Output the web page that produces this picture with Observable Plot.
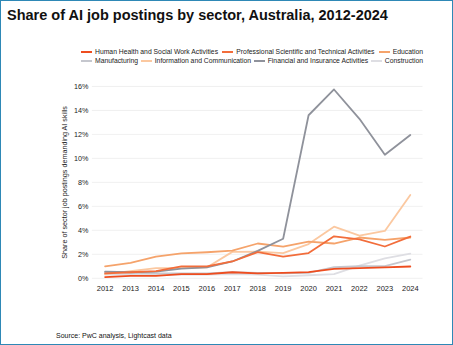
<!DOCTYPE html>
<html>
<head>
<meta charset="utf-8">
<script src="https://cdn.jsdelivr.net/npm/d3@7"></script>
<script src="https://cdn.jsdelivr.net/npm/@observablehq/plot@0.6"></script>
<style>
  html, body { margin: 0; padding: 0; background: #fff; }
  #frame {
    position: relative; width: 453px; height: 345px; box-sizing: border-box;
    border: 1.5px solid #2e88b6; overflow: hidden;
    font-family: "Liberation Sans", Arial, Helvetica, sans-serif; color: #111;
  }
  #title { position: absolute; left: 6px; top: 6px; font-size: 14.5px; font-weight: bold; white-space: nowrap; }
  #legend { position: absolute; left: 80px; top: 46px; width: 342px; font-size: 6.8px; color: #222; }
  .row { display: flex; justify-content: space-between; height: 9px; align-items: center; }
  .item { display: flex; align-items: center; white-space: nowrap; }
  .sw { display: inline-block; width: 11px; height: 2px; margin-right: 3px; }
  #chart { position: absolute; left: -1.5px; top: 68.5px; }
  #source { position: absolute; left: 55px; top: 331px; font-size: 7px; color: #111; white-space: nowrap; }
</style>
</head>
<body>
<div id="frame">
  <div id="title">Share of AI job postings by sector, Australia, 2012-2024</div>
  <div id="legend"></div>
  <div id="chart"></div>
  <div id="source">Source: PwC analysis, Lightcast data</div>
</div>
<script>
const years = [2012, 2013, 2014, 2015, 2016, 2017, 2018, 2019, 2020, 2021, 2022, 2023, 2024];
const sectors = [
  "Human Health and Social Work Activities",
  "Professional Scientific and Technical Activities",
  "Education",
  "Manufacturing",
  "Information and Communication",
  "Financial and Insurance Activities",
  "Construction"
];
const colors = ["#ee4d1f", "#f26d3b", "#f5a36b", "#c5c7ce", "#fbc8a0", "#8f929b", "#dedee3"];
const humanHealth   = [0.10, 0.20, 0.20, 0.35, 0.35, 0.50, 0.40, 0.45, 0.52, 0.78, 0.85, 0.90, 0.98];
const professional  = [0.40, 0.50, 0.60, 1.00, 1.00, 1.40, 2.18, 1.80, 2.10, 3.50, 3.25, 2.65, 3.48];
const education     = [1.00, 1.28, 1.80, 2.08, 2.17, 2.30, 2.90, 2.64, 3.05, 2.90, 3.40, 3.20, 3.40];
const manufacturing = [0.50, 0.45, 0.40, 0.40, 0.40, 0.50, 0.45, 0.40, 0.45, 0.92, 1.02, 1.02, 1.56];
const infoComm      = [0.35, 0.60, 0.85, 0.85, 0.90, 2.20, 2.22, 2.10, 2.85, 4.30, 3.55, 3.95, 6.95];
const financial     = [0.55, 0.50, 0.55, 0.80, 0.90, 1.40, 2.28, 3.30, 13.60, 15.75, 13.30, 10.30, 11.95];
const construction  = [0.30, 0.30, 0.30, 0.30, 0.30, 0.35, 0.30, 0.15, 0.25, 0.35, 1.05, 1.65, 2.05];
const yTicks = [0, 2, 4, 6, 8, 10, 12, 14, 16];

const seriesValues = [humanHealth, professional, education, manufacturing, infoComm, financial, construction];
const data = [];
sectors.forEach((s, i) => years.forEach((y, j) => data.push({sector: s, year: y, value: seriesValues[i][j]})));

// draw order (back to front)
const drawOrder = [6, 3, 4, 2, 5, 1, 0];

// legend
const legend = document.getElementById("legend");
[[0, 1, 2], [3, 4, 5, 6]].forEach(row => {
  const r = document.createElement("div");
  r.className = "row";
  row.forEach(i => {
    const it = document.createElement("div");
    it.className = "item";
    it.innerHTML = `<span class="sw" style="background:${colors[i]}"></span><span>${sectors[i]}</span>`;
    r.appendChild(it);
  });
  legend.appendChild(r);
});

const chart = Plot.plot({
  width: 453,
  height: 232,
  marginLeft: 92,
  marginRight: 30,
  marginTop: 16,
  marginBottom: 24,
  style: {fontFamily: "'Liberation Sans', Arial, sans-serif", fontSize: "7.5px", color: "#222", background: "transparent"},
  x: {domain: [2011.5, 2024.5]},
  y: {domain: [0, 16]},
  color: {domain: sectors, range: colors},
  marks: [
    Plot.gridY(yTicks, {stroke: "#ececec", strokeOpacity: 1, strokeWidth: 0.8}),
    Plot.axisY({ticks: yTicks, tickSize: 0, tickPadding: 4, tickFormat: d => d + "%",
      label: "Share of sector job postings demanding AI skills", labelAnchor: "center", labelOffset: 31, labelArrow: "none", fontSize: 7.2}),
    Plot.axisX({ticks: years, tickSize: 0, tickPadding: 7, tickFormat: d => String(d), label: null, fontSize: 7.5}),
    ...drawOrder.map(i => Plot.line(data.filter(d => d.sector === sectors[i]), {
      x: "year", y: "value", stroke: colors[i], strokeWidth: 1.8, strokeLinejoin: "round"
    }))
  ]
});
document.getElementById("chart").appendChild(chart);
</script>
</body>
</html>
